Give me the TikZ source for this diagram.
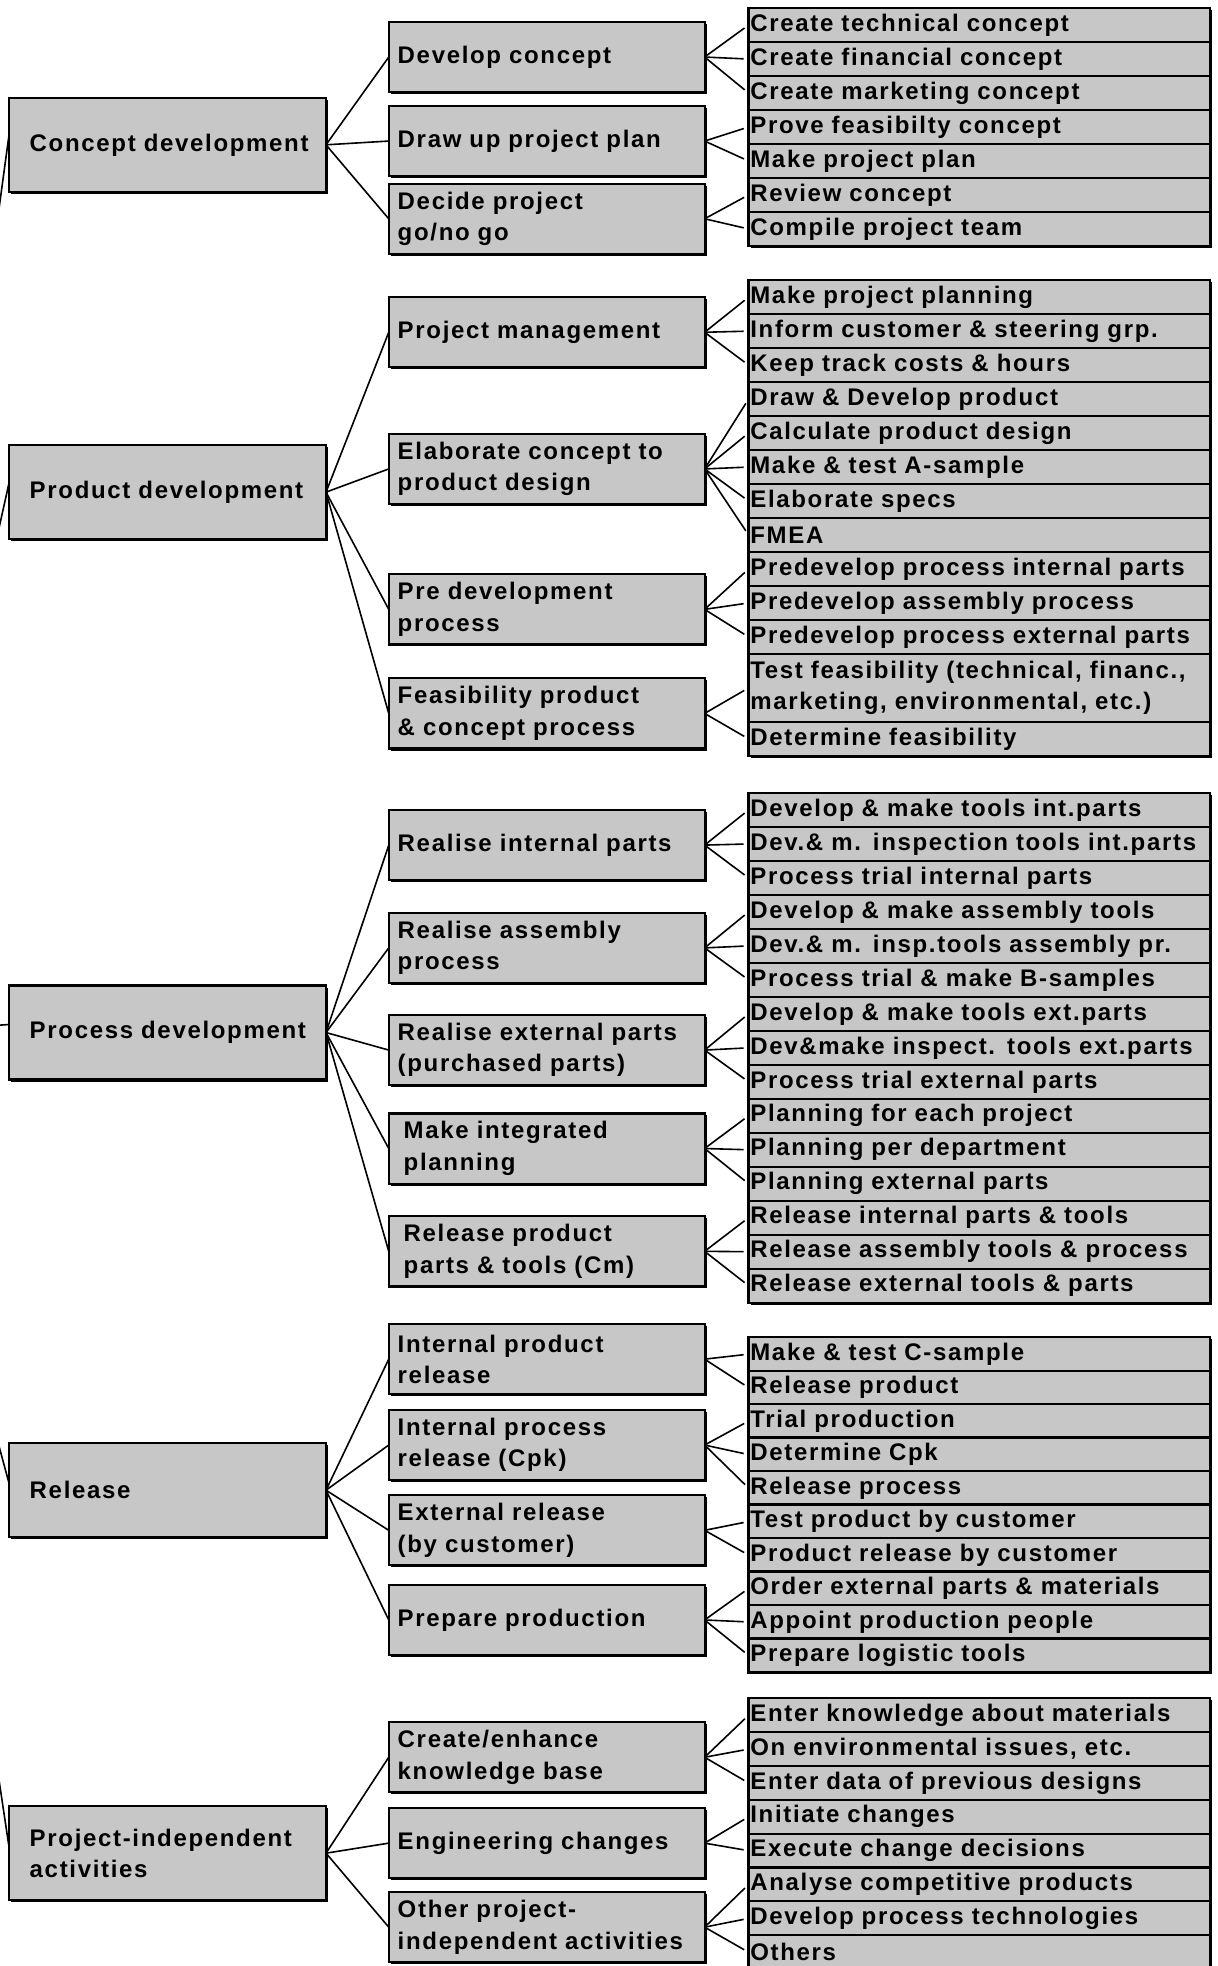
\documentclass[tikz,border=0pt]{standalone}
\usepackage{fontspec}
\setmainfont{Liberation Sans}[LetterSpace=7]
\usetikzlibrary{shadows}
\definecolor{screen}{gray}{0.78}

\begin{document}
\begin{tikzpicture}[x=0.6272pt,y=-0.6272pt
    , box/.style = {rectangle,draw=black,line width=1.1pt,fill=screen,outer sep=0mm,
        drop shadow={shadow xshift=1pt,shadow yshift=-1pt,shadow scale=1,fill=black,opacity=1},
        font=\fontsize{12}{15.7}\selectfont\bfseries,align=left}
    , topbox/.style = {box,text width=137.7pt,inner xsep=10.5pt,minimum height=47pt}
    , midbox/.style = {box,text width=149pt,inner xsep=4.5pt,minimum height=35.1pt}
    , leafbox/.style = {box,text width=229pt,inner xsep=0.9pt,inner ysep=0pt,minimum height=17pt}
    , link/.style = {line width=0.8pt}
]
\useasboundingbox (0,0) rectangle (971,1568);
% main phases
\node[topbox] (concept) at (133.5,115.5) {Concept~development};
\node[topbox] (product) at (133.5,392.5) {Product~development};
\node[topbox] (process) at (133.5,823.5) {Process~development};
\node[topbox] (release) at (133.5,1188.5) {Release};
\node[topbox] (indep) at (133.5,1478) {Project-independent\\activities};
% sub phases
\node[midbox] (dev) at (436,45.5) {Develop concept};
\node[midbox] (plan) at (436,112.5) {Draw up project plan};
\node[midbox] (decide) at (436,174.5) {Decide project\\go/no go};
\node[midbox] (manage) at (436,265) {Project management};
\node[midbox] (elab) at (436,374) {Elaborate concept to\\product design};
\node[midbox] (predev) at (436,486) {Pre development\\process};
\node[midbox] (feas) at (436,569) {Feasibility product\\\& concept process};
\node[midbox] (rint) at (436,674) {Realise internal parts};
\node[midbox] (rass) at (436,756) {Realise assembly\\process};
\node[midbox] (rext) at (436,837.5) {Realise external parts\\(purchased parts)};
\node[midbox] (integ) at (436,916) {\hspace*{3pt}Make integrated\\\hspace*{3pt}planning};
\node[midbox] (relpt) at (436,998) {\hspace*{3pt}Release product\\\hspace*{3pt}parts \& tools (Cm)};
\node[midbox] (iprod) at (436,1084) {Internal product\\release};
\node[midbox] (iproc) at (436,1152.5) {Internal process\\release (Cpk)};
\node[midbox] (extrel) at (436,1220.5) {External release\\(by customer)};
\node[midbox] (prep) at (436,1292) {Prepare production};
\node[midbox] (know) at (436,1401.5) {Create/enhance\\knowledge base};
\node[midbox] (eng) at (436,1470) {Engineering changes};
\node[midbox] (other) at (436,1537) {Other project-\\independent activities};
% activities
\foreach \t [count=\j from 0] in {Create technical concept, Create financial concept,
    Create marketing concept, Prove feasibilty concept, Make project plan,
    Review concept, Compile project team}
    \node[leafbox] (c\j) at (781,20+27.1*\j) {\t};
\foreach \t [count=\j from 0] in {Make project planning, Inform customer \& steering grp.,
    Keep track costs \& hours, Draw \& Develop product, Calculate product design,
    Make \& test A-sample, Elaborate specs, FMEA, Predevelop process internal parts,
    Predevelop assembly process, Predevelop process external parts}
    \node[leafbox] (p\j) at (781,237+27.1*\j) {\t};
\node[leafbox,minimum height=34pt] (p11) at (781,237+27.1*11.5)
    {Test feasibility (technical, financ.,\\marketing, environmental, etc.)};
\node[leafbox] (p12) at (781,237+27.1*13) {Determine feasibility};
\foreach \t [count=\j from 0] in {Develop \& make tools int.parts,
    Dev.\& m. inspection tools int.parts, Process trial internal parts,
    Develop \& make assembly tools, Dev.\& m. insp.tools assembly pr.,
    Process trial \& make B-samples, Develop \& make tools ext.parts,
    Dev\&make inspect. tools ext.parts, Process trial external parts,
    Planning for each project, Planning per department, Planning external parts,
    Release internal parts \& tools, Release assembly tools \& process,
    Release external tools \& parts}
    \node[leafbox] (s\j) at (781,646+27.1*\j) {\t};
\foreach \t [count=\j from 0] in {Make \& test C-sample, Release product,
    Trial production, Determine Cpk, Release process, Test product by customer,
    Product release by customer, Order external parts \& materials,
    Appoint production people, Prepare logistic tools}
    \node[leafbox] (r\j) at (781,1080+26.7*\j) {\t};
\foreach \t [count=\j from 0] in {Enter knowledge about materials,
    {On environmental issues, etc.}, Enter data of previous designs,
    Initiate changes, Execute change decisions, Analyse competitive products,
    Develop process technologies, Others}
    \node[leafbox] (i\j) at (781,1368+27*\j) {\t};
% phase -> sub phase
\foreach \m in {dev,plan,decide} \draw[link] (concept.east) -- (\m.west);
\foreach \m in {manage,elab,predev,feas} \draw[link] (product.east) -- (\m.west);
\foreach \m in {rint,rass,rext,integ,relpt} \draw[link] (process.east) -- (\m.west);
\foreach \m in {iprod,iproc,extrel,prep} \draw[link] (release.east) -- (\m.west);
\foreach \m in {know,eng,other} \draw[link] (indep.east) -- (\m.west);
% sub phase -> activity
\foreach \m/\a/\b in {dev/0/2,plan/3/4,decide/5/6}
    \foreach \k in {\a,...,\b} \draw[link,shorten >=2.5pt] (\m.east) -- (c\k.west);
\foreach \m/\a/\b in {manage/0/2,elab/3/7,predev/8/10,feas/11/12}
    \foreach \k in {\a,...,\b} \draw[link,shorten >=2.5pt] (\m.east) -- (p\k.west);
\foreach \m/\a/\b in {rint/0/2,rass/3/5,rext/6/8,integ/9/11,relpt/12/14}
    \foreach \k in {\a,...,\b} \draw[link,shorten >=2.5pt] (\m.east) -- (s\k.west);
\foreach \m/\a/\b in {iprod/0/1,iproc/2/4,extrel/5/6,prep/7/9}
    \foreach \k in {\a,...,\b} \draw[link,shorten >=2.5pt] (\m.east) -- (r\k.west);
\foreach \m/\a/\b in {know/0/2,eng/3/4,other/5/7}
    \foreach \k in {\a,...,\b} \draw[link,shorten >=2.5pt] (\m.east) -- (i\k.west);
% stubs from the project root, off the page
\coordinate (root) at (-90,823.5);
\begin{scope}
\clip (0,0) rectangle (971,1568);
\foreach \n in {concept,product,process,release,indep}
    \draw[link] (root) -- ([yshift=4pt]\n.west);
\end{scope}
\end{tikzpicture}
\end{document}
